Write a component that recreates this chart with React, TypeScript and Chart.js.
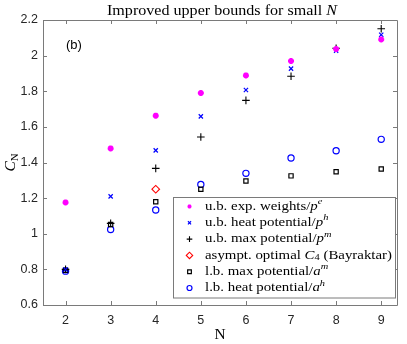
import React, { useEffect, useRef } from "react";
import { Chart, registerables } from "chart.js";
import { drawPoint } from "chart.js/helpers";

Chart.register(...registerables);

const nValues = [2, 3, 4, 5, 6, 7, 8, 9];
const ubExpWeights = [1.176, 1.479, 1.663, 1.79, 1.889, 1.97, 2.037, 2.091];
const ubHeat = [0.799, 1.21, 1.468, 1.659, 1.807, 1.927, 2.028, 2.117];
const ubMax = [0.8, 1.058, 1.367, 1.543, 1.749, 1.884, 2.041, 2.151];
const asymptN = [4];
const asymptC4 = [1.25];
const lbMax = [0.795, 1.052, 1.18, 1.25, 1.296, 1.325, 1.348, 1.363];
const lbHeat = [0.79, 1.024, 1.133, 1.277, 1.339, 1.425, 1.466, 1.53];
const xTicks = [2, 3, 4, 5, 6, 7, 8, 9];
const yTicks = [0.6, 0.8, 1, 1.2, 1.4, 1.6, 1.8, 2, 2.2];
const yTickLabels = ["0.6", "0.8", "1", "1.2", "1.4", "1.6", "1.8", "2", "2.2"];

type Seg = { t: string; s?: "i" | "sup" | "sub" | "isup" };

const legendItems: { segs: Seg[]; idx: number }[] = [
  { segs: [{ t: "u.b. exp. weights/" }, { t: "p", s: "i" }, { t: "e", s: "isup" }], idx: 0 },
  { segs: [{ t: "u.b. heat potential/" }, { t: "p", s: "i" }, { t: "h", s: "isup" }], idx: 1 },
  { segs: [{ t: "u.b. max potential/" }, { t: "p", s: "i" }, { t: "m", s: "isup" }], idx: 2 },
  { segs: [{ t: "asympt. optimal " }, { t: "C", s: "i" }, { t: "4", s: "sub" }, { t: " (Bayraktar)" }], idx: 3 },
  { segs: [{ t: "l.b. max potential/" }, { t: "a", s: "i" }, { t: "m", s: "isup" }], idx: 4 },
  { segs: [{ t: "l.b. heat potential/" }, { t: "a", s: "i" }, { t: "h", s: "isup" }], idx: 5 },
];

const SERIF = "'Liberation Serif', 'DejaVu Serif', serif";
const SANS = "'Liberation Sans', Arial, sans-serif";

function drawRich(ctx: CanvasRenderingContext2D, segs: Seg[], x: number, y: number, size: number, sx = 1, measureOnly = false): number {
  ctx.save();
  ctx.translate(x, y);
  ctx.scale(sx, 1);
  let cx = 0;
  for (const sg of segs) {
    let fs = size;
    let dy = 0;
    let italic = false;
    if (sg.s === "i") italic = true;
    if (sg.s === "sup" || sg.s === "isup") { fs = size * 0.7; dy = -size * 0.38; italic = sg.s === "isup"; }
    if (sg.s === "sub") { fs = size * 0.7; dy = size * 0.22; }
    ctx.font = `${italic ? "italic " : ""}${fs}px ${SERIF}`;
    if (!measureOnly) ctx.fillText(sg.t, cx, dy);
    cx += ctx.measureText(sg.t).width;
  }
  ctx.restore();
  return cx * sx;
}

const framePlugin = {
  id: "frame",
  afterDraw(chart: any) {
    const ctx: CanvasRenderingContext2D = chart.ctx;
    const { left, right, top, bottom } = chart.chartArea;
    const xs = chart.scales.x;
    const ys = chart.scales.y;
    ctx.save();
    ctx.strokeStyle = "#7a7a7a";
    ctx.lineWidth = 1;
    ctx.beginPath();
    ctx.rect(Math.round(left) + 0.5, Math.round(top) + 0.5, Math.round(right - left), Math.round(bottom - top));
    const tl = 4;
    for (const v of xTicks) {
      const px = Math.round(xs.getPixelForValue(v)) + 0.5;
      ctx.moveTo(px, bottom); ctx.lineTo(px, bottom - tl);
      ctx.moveTo(px, top); ctx.lineTo(px, top + tl);
    }
    for (const v of yTicks) {
      const py = Math.round(ys.getPixelForValue(v)) + 0.5;
      ctx.moveTo(left, py); ctx.lineTo(left + tl, py);
      ctx.moveTo(right, py); ctx.lineTo(right - tl, py);
    }
    ctx.stroke();

    // title
    ctx.fillStyle = "#000";
    ctx.textBaseline = "alphabetic";
    const titleSegs: Seg[] = [{ t: "Improved upper bounds for small " }, { t: "N", s: "i" }];
    const tsize = 14.2;
    const tw0 = drawRich(ctx, titleSegs, 0, 0, tsize, 1, true);
    const tsx = 230 / tw0;
    drawRich(ctx, titleSegs, (left + right) / 2 + 2 - 115, 14.5, tsize, tsx);

    // x label
    ctx.save();
    ctx.font = `14px ${SERIF}`;
    ctx.textAlign = "center";
    ctx.translate((left + right) / 2, 339);
    ctx.scale(1.1, 1);
    ctx.fillText("N", 0, 0);
    ctx.restore();

    // y label
    ctx.save();
    ctx.translate(15, (top + bottom) / 2);
    ctx.rotate(-Math.PI / 2);
    const ySegs: Seg[] = [{ t: "C", s: "i" }, { t: "N", s: "sub" }];
    const yw = drawRich(ctx, ySegs, 0, 0, 14, 1.1, true);
    drawRich(ctx, ySegs, -yw / 2, 0, 14, 1.1);
    ctx.restore();

    // (b)
    ctx.font = `13px ${SANS}`;
    ctx.fillText("(b)", 66, 49);

    // legend
    const lx = 173.5, lyTop = 197.5, lw = 222, lh = 100.5;
    ctx.fillStyle = "#fff";
    ctx.fillRect(lx, lyTop, lw, lh);
    ctx.strokeStyle = "#7a7a7a";
    ctx.strokeRect(lx, lyTop, lw, lh);
    const rowY0 = 206.5, rowH = 16.3;
    const lsize = 12.5;
    const refW = drawRich(ctx, legendItems[3].segs, 0, 0, lsize, 1, true);
    const lsx = 187 / refW;
    legendItems.forEach((it, i) => {
      const ds = chart.data.datasets[it.idx];
      const cy = rowY0 + i * rowH;
      ctx.save();
      ctx.strokeStyle = ds.pointBorderColor;
      ctx.fillStyle = ds.pointBackgroundColor;
      ctx.lineWidth = ds.legendBorder;
      drawPoint(ctx, { pointStyle: ds.pointStyle, radius: ds.legendRadius, borderWidth: ds.legendBorder, rotation: 0 } as any, 189.5, cy);
      ctx.restore();
      ctx.fillStyle = "#000";
      ctx.textBaseline = "middle";
      drawRich(ctx, it.segs, 205, cy, lsize, lsx);
    });
    ctx.restore();
  },
};

function toPts(xsArr: number[], ysArr: number[]) {
  return xsArr.map((x, i) => ({ x, y: ysArr[i] }));
}

export default function App() {
  const ref = useRef<HTMLCanvasElement>(null);
  useEffect(() => {
    document.body.style.margin = "0";
    const chart = new Chart(ref.current!, {
      type: "scatter",
      data: {
        datasets: [
          { data: toPts(nValues, ubExpWeights), pointStyle: "star", pointRadius: 3, pointBorderWidth: 2, pointBorderColor: "#ff00ff", pointBackgroundColor: "#ff00ff", legendRadius: 2, legendBorder: 1.6 } as any,
          { data: toPts(nValues, ubHeat), pointStyle: "crossRot", pointRadius: 3, pointBorderWidth: 1.2, pointBorderColor: "#0000ff", pointBackgroundColor: "#0000ff", legendRadius: 2.2, legendBorder: 1.2 } as any,
          { data: toPts(nValues, ubMax), pointStyle: "cross", pointRadius: 3.8, pointBorderWidth: 1.1, pointBorderColor: "#000", pointBackgroundColor: "#000", legendRadius: 2.8, legendBorder: 1.1 } as any,
          { data: toPts(asymptN, asymptC4), pointStyle: "rectRot", pointRadius: 3.8, pointBorderWidth: 1.1, pointBorderColor: "#ff0000", pointBackgroundColor: "rgba(0,0,0,0)", legendRadius: 3.2, legendBorder: 1.1 } as any,
          { data: toPts(nValues, lbMax), pointStyle: "rect", pointRadius: 3, pointBorderWidth: 1.2, pointBorderColor: "#000", pointBackgroundColor: "rgba(0,0,0,0)", legendRadius: 2.6, legendBorder: 1.2 } as any,
          { data: toPts(nValues, lbHeat), pointStyle: "circle", pointRadius: 3.1, pointBorderWidth: 1.2, pointBorderColor: "#0000ff", pointBackgroundColor: "rgba(0,0,0,0)", legendRadius: 2.5, legendBorder: 1.2 } as any,
        ],
      },
      options: {
        animation: false,
        responsive: false,
        events: [],
        layout: { padding: { top: 20, right: 10, left: 0, bottom: 0 } },
        plugins: { legend: { display: false }, title: { display: false }, tooltip: { enabled: false } },
        scales: {
          x: {
            type: "linear",
            min: 1.5,
            max: 9.35,
            grid: { display: false, drawTicks: false },
            border: { display: false },
            ticks: { padding: 8, color: "#262626", font: { family: SANS, size: 12.5 }, callback: (v: any) => String(v) },
            afterBuildTicks: (s: any) => { s.ticks = xTicks.map((v) => ({ value: v })); },
            afterFit: (s: any) => { s.height = 39; },
          },
          y: {
            type: "linear",
            min: 0.6,
            max: 2.2,
            grid: { display: false, drawTicks: false },
            border: { display: false },
            ticks: { padding: 5, color: "#262626", font: { family: SANS, size: 12.5 }, callback: (v: any) => { const i = yTicks.findIndex((t) => Math.abs(t - v) < 1e-6); return i >= 0 ? yTickLabels[i] : ""; } },
            afterBuildTicks: (s: any) => { s.ticks = yTicks.map((v) => ({ value: v })); },
            afterFit: (s: any) => { s.width = 43; },
          },
        },
      },
      plugins: [framePlugin],
    });
    return () => chart.destroy();
  }, []);
  return (
    <div style={{ position: "absolute", left: 0, top: 0, width: 407, height: 344 }}>
      <canvas ref={ref} width={407} height={344} style={{ width: 407, height: 344 }} />
    </div>
  );
}
